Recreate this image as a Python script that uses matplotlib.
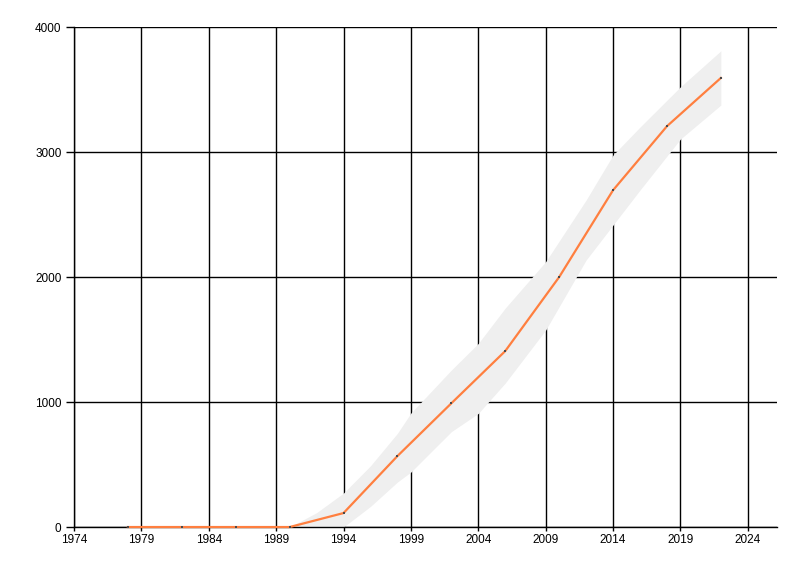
import matplotlib
matplotlib.use("Agg")
import matplotlib.pyplot as plt

# data
years = [1978, 1982, 1986, 1990, 1994, 1998, 2002, 2006, 2010, 2014, 2018, 2022]
values = [0, 0, 0, 0, 112, 568, 990, 1408, 2000, 2695, 3207, 3593]

band_years = [1990, 1992, 1994, 1996, 1998, 1999, 2002, 2004, 2006, 2009, 2012, 2014, 2016, 2019, 2022]
band_upper = [0, 115, 272, 490, 750, 912, 1256, 1469, 1752, 2123, 2616, 2976, 3200, 3522, 3810]
band_lower = [0, 0, 0, 165, 360, 440, 763, 909, 1152, 1576, 2136, 2416, 2696, 3104, 3376]

x_ticks = [1974, 1979, 1984, 1989, 1994, 1999, 2004, 2009, 2014, 2019, 2024]
y_ticks = [0, 1000, 2000, 3000, 4000]

plt.rcParams['font.family'] = ['Liberation Sans', 'DejaVu Sans']

fig = plt.figure(figsize=(8, 5.76), dpi=100)
ax = fig.add_axes([0.0925, 0.085, 0.971 - 0.0925, 0.953 - 0.085])

ax.fill_between(band_years, band_lower, band_upper, color='#efefef', linewidth=0, zorder=2)
ax.plot(years, values, color='#ff7f3f', linewidth=1.6, zorder=3, clip_on=False)
ax.plot(years, values, linestyle='none', marker='s', markersize=1.8,
        color='#4a4a4a', markeredgewidth=0, zorder=4, clip_on=False)

ax.set_xlim(1974, 2026.15)
ax.set_ylim(0, 4000)
ax.set_xticks(x_ticks)
ax.set_yticks(y_ticks)
ax.grid(True, color='black', linewidth=1.0)
ax.set_axisbelow(True)

for s in ['top', 'right']:
    ax.spines[s].set_visible(False)
for s in ['left', 'bottom']:
    ax.spines[s].set_linewidth(1.0)
    ax.spines[s].set_color('black')
    ax.spines[s].set_zorder(2.5)

ax.tick_params(axis='y', length=6, width=1, pad=3, labelsize=8.5)
ax.tick_params(axis='x', length=3, width=1, pad=2, labelsize=8.5)

fig.savefig('out.png', dpi=100)
